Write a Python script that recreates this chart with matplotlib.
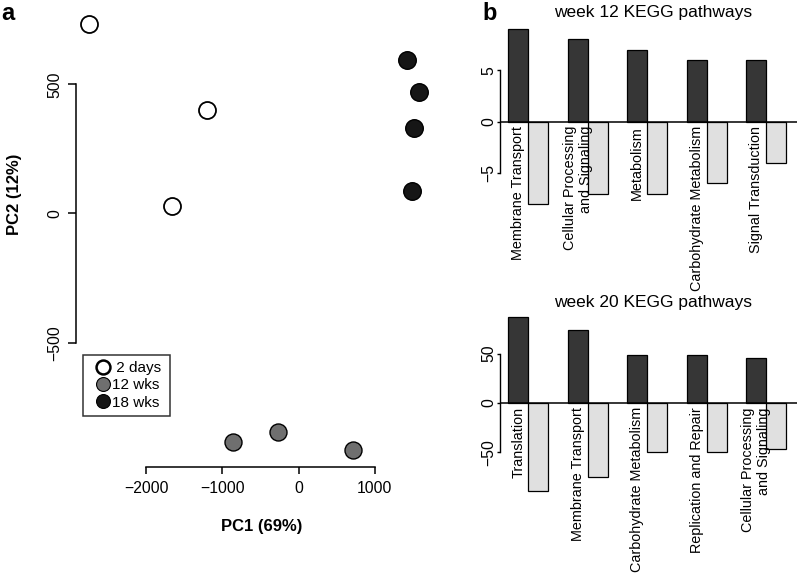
import matplotlib.pyplot as plt
from matplotlib.lines import Line2D

plt.rcParams['font.family'] = ['Liberation Sans', 'DejaVu Sans']

# ---------- DATA ----------
# (a) PCA scores
pc1_2d = [-2750, -1200, -1660]
pc2_2d = [735, 400, 28]
pc1_12w = [-855, -265, 710]
pc2_12w = [-885, -845, -915]
pc1_18w = [1420, 1580, 1515, 1490]
pc2_18w = [592, 472, 332, 88]

# (b) KEGG pathway counts (up / down)
wk12_names = ["Membrane Transport", "Cellular Processing\nand Signaling",
              "Metabolism", "Carbohydrate Metabolism", "Signal Transduction"]
wk12_up = [9, 8, 7, 6, 6]
wk12_down = [-8, -7, -7, -6, -4]

wk20_names = ["Translation", "Membrane Transport", "Carbohydrate Metabolism",
              "Replication and Repair", "Cellular Processing\nand Signaling"]
wk20_up = [87, 74, 49, 49, 46]
wk20_down = [-89, -75, -50, -50, -47]

# ---------- STYLE ----------
W, H = 800, 577
DARK = '#363636'
LIGHT = '#e0e0e0'
GRAY = '#6f6f6f'
BLACK_PT = '#161616'
TICK_FS = 11.3


def px_axes(fig, left, top, right, bottom):
    return fig.add_axes([left / W, 1 - bottom / H, (right - left) / W, (bottom - top) / H])


def ftext(fig, x, y, s, **kw):
    fig.text(x / W, 1 - y / H, s, **kw)


fig = plt.figure(figsize=(8, 5.77), dpi=100)

# ------------------- (a) PCA -------------------
ax = px_axes(fig, 76, 7, 432, 467)
ax.scatter(pc1_2d, pc2_2d, s=150, facecolor='white', edgecolor='black', linewidth=1.3, zorder=3)
ax.scatter(pc1_12w, pc2_12w, s=150, facecolor=GRAY, edgecolor='black', linewidth=1.0, zorder=3)
ax.scatter(pc1_18w, pc2_18w, s=160, facecolor=BLACK_PT, edgecolor='black', linewidth=1.0, zorder=3)
ax.set_xlim(-2923, 1752)
ax.set_ylim(-981, 799)
for s in ['top', 'right']:
    ax.spines[s].set_visible(False)
ax.spines['left'].set_bounds(-500, 500)
ax.spines['bottom'].set_bounds(-2000, 1000)
ax.spines['left'].set_linewidth(1.1)
ax.spines['bottom'].set_linewidth(1.1)
ax.set_xticks([-2000, -1000, 0, 1000])
ax.set_yticks([-500, 0, 500])
ax.tick_params(axis='y', length=5.5, width=1.1, pad=4.5, labelsize=TICK_FS)
ax.tick_params(axis='x', length=5, width=1.1, pad=5, labelsize=TICK_FS)
for lab in ax.get_yticklabels():
    lab.set_rotation(90)
    lab.set_va('center')

handles = [
    Line2D([], [], ls='none', marker='o', ms=10, mfc='white', mec='black', mew=1.8),
    Line2D([], [], ls='none', marker='o', ms=10, mfc=GRAY, mec='black', mew=0.8),
    Line2D([], [], ls='none', marker='o', ms=10, mfc=BLACK_PT, mec='black', mew=0.8),
]
leg = fig.legend(handles, [' 2 days', '12 wks', '18 wks '],
                 loc='upper left', bbox_to_anchor=(83 / W, 1 - 355 / H),
                 borderaxespad=0, frameon=True, fancybox=False,
                 edgecolor='black', fontsize=11, handlelength=1.8,
                 handletextpad=-0.3, labelspacing=0.22, borderpad=0.4)
leg.get_frame().set_linewidth(1.1)

ftext(fig, 262, 527, "PC1 (69%)", ha='center', va='center', fontsize=12, fontweight='bold')
ftext(fig, 15, 194, "PC2 (12%)", ha='center', va='center', fontsize=12,
      fontweight='bold', rotation=90)
ftext(fig, 8, 14, "a", ha='center', va='center', fontsize=17, fontweight='bold')
ftext(fig, 490, 14, "b", ha='center', va='center', fontsize=17, fontweight='bold')


# ------------------- (b) bar panels -------------------
def bar_panel(ax, names, up, down, ylim, ticks):
    x_dark = [1 + 3 * i for i in range(len(up))]
    x_light = [2 + 3 * i for i in range(len(down))]
    ax.bar(x_dark, up, width=1, align='edge', color=DARK, edgecolor='black', linewidth=0.9, zorder=2)
    ax.bar(x_light, down, width=1, align='edge', color=LIGHT, edgecolor='black', linewidth=0.9, zorder=2)
    ax.axhline(0, color='black', lw=1.1, zorder=3)
    ax.set_xlim(0.58, 15.55)
    ax.set_ylim(*ylim)
    for s in ['top', 'right', 'bottom']:
        ax.spines[s].set_visible(False)
    ax.spines['left'].set_bounds(ticks[0], ticks[-1])
    ax.spines['left'].set_linewidth(1.0)
    ax.set_xticks([])
    ax.set_yticks(ticks)
    ax.tick_params(axis='y', length=2.2, width=1.0, pad=0.3, labelsize=TICK_FS)
    for lab in ax.get_yticklabels():
        lab.set_rotation(90)
        lab.set_va('center')
    for xd, name in zip(x_dark, names):
        ax.annotate(name, xy=(xd + 0.5, 0), xytext=(0, -3), textcoords='offset points',
                    rotation=90, ha='center', va='top', multialignment='right',
                    fontsize=10.4, annotation_clip=False)


ax1 = px_axes(fig, 500, 22, 797, 211)
bar_panel(ax1, wk12_names, wk12_up, wk12_down, (-8.68, 9.68), [-5, 0, 5])
ftext(fig, 653, 12.5, "week 12 KEGG pathways", ha='center', va='center', fontsize=12.5)

ax2 = px_axes(fig, 500, 310, 797, 498)
bar_panel(ax2, wk20_names, wk20_up, wk20_down, (-96.04, 94.04), [-50, 0, 50])
ftext(fig, 653, 302, "week 20 KEGG pathways", ha='center', va='center', fontsize=12.5)

fig.savefig("out.png", dpi=100)
